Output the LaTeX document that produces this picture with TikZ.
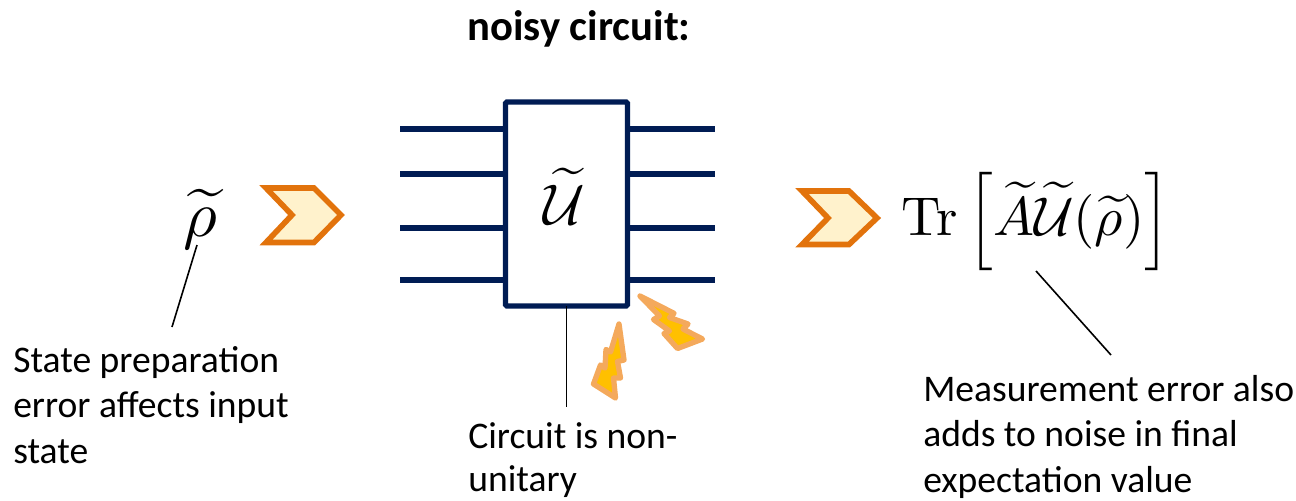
\documentclass[tikz,border=0pt]{standalone}
\usepackage[no-math]{fontspec}
\setmainfont{Carlito}
\definecolor{navy}{HTML}{001C54}
\definecolor{chevdraw}{HTML}{E2730C}
\definecolor{chevfill}{HTML}{FFF2CC}
\definecolor{boltdraw}{HTML}{F4A95C}
\definecolor{boltfill}{HTML}{FFC000}
\tikzset{
  px/.style={x=0.75pt,y=-0.75pt},
  wire/.style={draw=navy,line width=4.4pt},
  gatebox/.style={draw=navy,line width=3.9pt,fill=white,rounded corners=1pt,outer sep=0pt,inner sep=0pt,minimum width=91.5pt,minimum height=153pt},
  chev/.style={draw=chevdraw,fill=chevfill,line width=4.2pt,miter limit=10},
  bolt/.style={draw=boltdraw,fill=boltfill,line width=4pt,line join=round},
  leader/.style={draw=black,line width=1.2pt},
  note/.style={font=\fontsize{28.2}{34.2}\selectfont,align=left,anchor=north west,inner sep=0pt},
  mathbig/.style={inner sep=0pt},
}
\begin{document}
\begin{tikzpicture}[px]
\useasboundingbox (0,0) rectangle (1296,500);
% title
\node[font=\fontsize{32}{36}\selectfont\bfseries,inner sep=0pt] (title) at (579,29) {noisy circuit:};
% wires
\foreach \n/\y in {1/129,2/174,3/228,4/280}{
  \coordinate (wl\n) at (400,\y);
  \coordinate (wr\n) at (715,\y);
}
\node[gatebox] (box) at (566.5,204) {};
\foreach \n in {1,2,3,4}{
  \draw[wire] (wl\n) -- (wl\n -| box.west);
  \draw[wire] (box.east |- wr\n) -- (wr\n);
}
\node[mathbig,scale=4.3] (umath) at (564,196.5) {$\widetilde{\mathcal{U}}$};
% input state
\node[mathbig,scale=4.9] (rho) at (200.5,219) {$\widetilde{\rho}$};
% chevrons
\draw[chev] (266,188) -- (314,188) -- (341,215) -- (314,242.5) -- (266,242.5) -- (292,215) -- cycle;
\draw[chev] (802,191) -- (849,191) -- (877,218) -- (849,244.5) -- (802,244.5) -- (828,218) -- cycle;
% output
\node[mathbig,scale=4.1] (trace) at (1036,222) {$\mathrm{Tr}\left[\widetilde{A}\widetilde{\mathcal{U}}(\widetilde{\rho})\right]$};
% lightning
\draw[bolt] (640,296) -- (674,313.3) -- (669.5,317.5) -- (688,324) -- (683,329) -- (702.5,339) -- (677.5,348.5) -- (664,333.5) -- (669.5,331) -- (653.5,319.5) -- (659.5,316) -- cycle;
\draw[bolt] (619,324) -- (624,360) -- (617.5,361.5) -- (620.5,378) -- (613.5,378) -- (615.5,398) -- (593.5,384) -- (600.5,365) -- (605,368) -- (606,349.5) -- (610.5,352) -- cycle;
% labels
\node[note] (lstate) at (13,346) {State preparation\\error affects input\\state};
\node[note,font=\fontsize{28.2}{32.5}\selectfont] (lcirc) at (468,422.5) {Circuit is non-\\unitary};
\node[note] (lmeas) at (923,375) {Measurement error also\\adds to noise in final\\expectation value};
% leaders
\coordinate (a1) at (197,245); \coordinate (a2) at (172,327);
\coordinate (c2) at (566.5,407);
\coordinate (m1) at (1036,271); \coordinate (m2) at (1111,355);
\draw[leader] (a1) -- (a2);
\draw[leader] (box.south -| c2) -- (c2);
\draw[leader] (m1) -- (m2);
\end{tikzpicture}
\end{document}
